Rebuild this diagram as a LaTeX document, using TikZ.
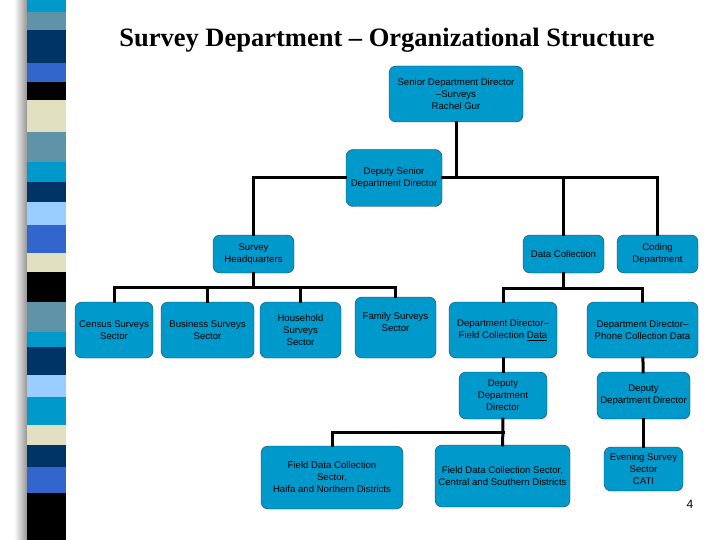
\documentclass[tikz,border=0pt]{standalone}
\usepackage{fontspec}
\setmainfont{Liberation Sans}
\newfontfamily\titlefont{Liberation Serif}
\usepackage{tikz}
\usetikzlibrary{positioning}
\definecolor{boxblue}{HTML}{0099CC}
\definecolor{boxline}{HTML}{1B3F55}
\definecolor{stcyan}{HTML}{0099CC}
\definecolor{ststeel}{HTML}{5F93A8}
\definecolor{stnavy}{HTML}{003366}
\definecolor{stroyal}{HTML}{3366CC}
\definecolor{stbeige}{HTML}{E0E0C0}
\definecolor{stlight}{HTML}{99CCFF}

\begin{document}
\begin{tikzpicture}[x=1pt, y=-1pt,
  orgbox/.style={draw=boxline, fill=boxblue, rounded corners=7pt, align=center,
    inner sep=1pt, font=\fontsize{9.6}{12}\selectfont},
  link/.style={line width=3pt, line cap=rect}
]
\useasboundingbox (0,0) rectangle (720,540);
\fill[white] (0,0) rectangle (720,540);

%------------- stripes
\fill[left color=white, right color=black!45] (14,0) rectangle (28,540);
\foreach \ya/\yb/\col in {0/12/stcyan, 12/30/ststeel, 30/63/stnavy, 63/82/stroyal,
  82/100/black, 100/132/stbeige, 132/162/ststeel, 162/182/stcyan, 182/202/stnavy,
  202/225/stlight, 225/253/stroyal, 253/272/stbeige, 272/302/black, 302/332/ststeel,
  332/347/stcyan, 347/375/stnavy, 375/397/stlight, 397/425/stcyan, 425/445/stbeige,
  445/467/stnavy, 467/493/stroyal, 493/540/black}
  \fill[\col] (27,\ya) rectangle (66,\yb);

%------------- title
\node[font=\titlefont\bfseries\fontsize{26.5}{30}\selectfont] (title) at (387,40)
  {Survey Department \textendash{} Organizational Structure};

%------------- top
\node[orgbox, minimum width=134, minimum height=56] (senior) at (456,94)
  {Senior Department Director\\--Surveys\\Rachel Gur};
\node[orgbox, minimum width=96, minimum height=57] (deputy) at (394,178)
  {Deputy Senior\\Department Director};

\node[orgbox, minimum width=81, minimum height=38] (hq) at (253.5,254)
  {Survey\\Headquarters};
\node[orgbox, minimum width=81, minimum height=38] (datacoll) at (563.5,254)
  {Data Collection};
\node[orgbox, minimum width=81, minimum height=38] (coding) at (657.5,254)
  {Coding\\Department};

%------------- sectors
\node[orgbox, minimum width=78, minimum height=56] (census) at (114,330)
  {Census Surveys\\Sector};
\node[orgbox, minimum width=93, minimum height=56] (business) at (207.5,330)
  {Business Surveys\\Sector};
\node[orgbox, minimum width=81, minimum height=56] (household) at (300.5,330)
  {Household\\Surveys\\Sector};
\node[orgbox, minimum width=81, minimum height=61] (family) at (395.5,327.5)
  {Family Surveys\\Sector\\[-2pt]};

\node[orgbox, minimum width=108, minimum height=56] (fielddir) at (503,330)
  {Department Director--\\Field Collection \underline{Data}};
\node[orgbox, minimum width=111, minimum height=56] (phonedir) at (642.5,330)
  {Department Director--\\Phone Collection Data};

\node[orgbox, minimum width=88, minimum height=47] (fielddep) at (503,395.5)
  {Deputy\\Department\\Director};
\node[orgbox, minimum width=93, minimum height=47] (phonedep) at (643.5,395.5)
  {Deputy\\Department Director};

\node[orgbox, minimum width=142, minimum height=63] (haifa) at (332,477.5)
  {Field Data Collection\\Sector,\\Haifa and Northern Districts};
\node[orgbox, minimum width=135, minimum height=62] (central) at (502.5,476)
  {Field Data Collection Sector,\\Central and Southern Districts};
\node[orgbox, minimum width=79, minimum height=44] (evening) at (643.5,469)
  {Evening Survey\\Sector\\CATI};

\node[font=\fontsize{12}{14}\selectfont] (pagenum) at (690,504) {4};

%------------- links
\draw[link] (senior) -- (senior |- deputy);
\draw[link] (hq.north) |- (deputy.west);
\draw[link] (deputy.east) -| (coding.north);
\draw[link] (datacoll.north) -- (datacoll.north |- deputy);

\coordinate (hqbus) at (253.5,287);
\draw[link] (hq) -- (hqbus);
\draw[link] (census.north) |- (hqbus) -| (family.north);
\draw[link] (business.north) -- (business.north |- hqbus);
\draw[link] (household.north) -- (household.north |- hqbus);

\coordinate (dcbus) at (563.5,288);
\draw[link] (datacoll) -- (dcbus);
\draw[link] (fielddir.north) |- (dcbus) -| (phonedir.north);
\draw[link] (fielddir) -- (fielddep);
\draw[link] (phonedir) -- (phonedep);

\coordinate (fieldbus) at (503,432);
\draw[link] (fielddep) -- (central);
\draw[link] (haifa.north) |- (fieldbus);
\draw[link] (phonedep) -- (evening);
\end{tikzpicture}
\end{document}
